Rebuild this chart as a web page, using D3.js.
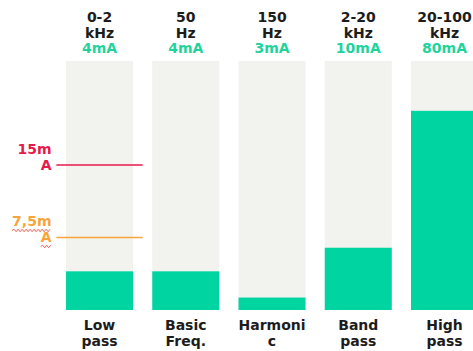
<!DOCTYPE html>
<html>
<head>
<meta charset="utf-8">
<script src="https://cdn.jsdelivr.net/npm/d3@7"></script>
<style>
  html, body { margin: 0; padding: 0; background: #fff; overflow: hidden; }
  svg { display: block; font-family: "DejaVu Sans", Verdana, sans-serif; font-weight: bold; font-size: 14px; }
</style>
</head>
<body>
<svg id="chart" width="473" height="351"></svg>
<script>
// Filter channels of the leakage-current meter
const channels  = ["Low pass", "Basic Freq.", "Harmonic", "Band pass", "High pass"];
const bandRange = ["0-2", "50", "150", "2-20", "20-100"];
const bandUnit  = ["kHz", "Hz", "Hz", "kHz", "kHz"];
const currents  = [4, 4, 3, 10, 80];           // measured current, mA
const fullScale = [25.75, 25.75, 60, 40, 100]; // gauge range of each channel, mA

// Alarm thresholds, read on the Low pass gauge
const limitValues = [15, 7.5];

const trackTop = 61, trackBottom = 310;
const GREEN = "#00d4a0", TRACK = "#f2f2ee", INK = "#1c1c1c";
const limitColor = d3.scaleOrdinal().domain(limitValues).range(["#e8194b", "#f7a53b"]);

const svg = d3.select("#chart");

const x = d3.scaleBand()
  .domain(channels)
  .range([56.4, 487.65])
  .paddingInner(0.223)
  .paddingOuter(0.1115);
const bw = x.bandwidth();
const step = x.step();

const yFor = i => d3.scaleLinear().domain([0, fullScale[i]]).range([trackBottom, trackTop]);

const comma = d3.formatLocale({ decimal: ",", thousands: ".", grouping: [3], currency: ["", "€"] }).format("~g");

// Break a label into lines that fit a given width (long words are split)
function wrapLines(textSel, str, maxW) {
  const probe = textSel.append("tspan");
  const fits = s => { probe.text(s); return probe.node().getComputedTextLength() <= maxW; };
  const lines = [];
  let line = "";
  for (const word of str.split(/\s+/)) {
    const cand = line ? line + " " + word : word;
    if (fits(cand)) { line = cand; continue; }
    if (line) lines.push(line);
    let rest = word;
    line = "";
    while (rest.length && !fits(rest)) {
      let k = rest.length - 1;
      while (k > 1 && !fits(rest.slice(0, k))) k--;
      lines.push(rest.slice(0, k));
      rest = rest.slice(k);
    }
    line = rest;
  }
  if (line) lines.push(line);
  probe.remove();
  return lines;
}

const col = svg.selectAll("g.channel")
  .data(channels.map((c, i) => ({ c, i })))
  .join("g")
  .attr("class", "channel");

// gauge track
col.append("rect")
  .attr("x", d => x(d.c))
  .attr("y", trackTop)
  .attr("width", bw)
  .attr("height", trackBottom - trackTop)
  .attr("fill", TRACK);

// measured level
col.append("rect")
  .attr("x", d => x(d.c))
  .attr("y", d => yFor(d.i)(currents[d.i]))
  .attr("width", bw)
  .attr("height", d => trackBottom - yFor(d.i)(currents[d.i]))
  .attr("fill", GREEN);

// header: frequency band and reading
const head = col.append("text")
  .attr("text-anchor", "middle")
  .attr("fill", INK);
head.append("tspan")
  .attr("x", d => x(d.c) + bw / 2).attr("y", 22)
  .text(d => bandRange[d.i]);
head.append("tspan")
  .attr("x", d => x(d.c) + bw / 2).attr("y", 37.5)
  .text(d => bandUnit[d.i]);
head.append("tspan")
  .attr("x", d => x(d.c) + bw / 2).attr("y", 53)
  .attr("fill", "#1fd49c")
  .text(d => currents[d.i] + "mA");

// channel name under the gauge
col.append("text")
  .attr("text-anchor", "middle")
  .attr("fill", INK)
  .each(function (d) {
    const t = d3.select(this);
    const lines = wrapLines(t, d.c, bw + 2);
    lines.forEach((ln, k) => {
      t.append("tspan")
        .attr("x", x(d.c) + bw / 2)
        .attr("y", 330 + k * 15.5)
        .text(ln);
    });
  });

// threshold markers across the Low pass gauge
const y0 = yFor(0);
const lx0 = x(channels[0]) - (step - bw) / 2;
const lim = svg.selectAll("g.limit")
  .data(limitValues)
  .join("g")
  .attr("class", "limit");

lim.append("line")
  .attr("x1", lx0)
  .attr("x2", lx0 + step)
  .attr("y1", d => y0(d))
  .attr("y2", d => y0(d))
  .attr("stroke", d => limitColor(d))
  .attr("stroke-width", 1.5);

// wavy "spelling" underline beneath a run of text
function squiggle(g, x1, x2, y) {
  const p = d3.path();
  p.moveTo(x1, y);
  let up = true;
  for (let xx = x1 + 2; xx <= x2 + 0.01; xx += 2) {
    p.lineTo(xx, y + (up ? -1.2 : 1.2));
    up = !up;
  }
  g.append("path")
    .attr("d", p.toString())
    .attr("fill", "none")
    .attr("stroke", "#e8453c")
    .attr("stroke-width", 1)
    .attr("opacity", 0.85);
}

lim.each(function (d, i) {
  const g = d3.select(this);
  const t = g.append("text")
    .attr("text-anchor", "end")
    .attr("fill", limitColor(d));
  const lines = wrapLines(t, comma(d) + "mA", 44);
  const n = lines.length;
  const xr = 51.5;
  lines.forEach((ln, k) => {
    const base = y0(d) + 5 - (n - 1 - k) * 16;
    const ts = t.append("tspan")
      .attr("x", xr)
      .attr("y", base)
      .text(ln);
    if (i === 1) {
      const w = ts.node().getComputedTextLength();
      squiggle(g, xr - w, xr, base + 4);
    }
  });
});
</script>
</body>
</html>
